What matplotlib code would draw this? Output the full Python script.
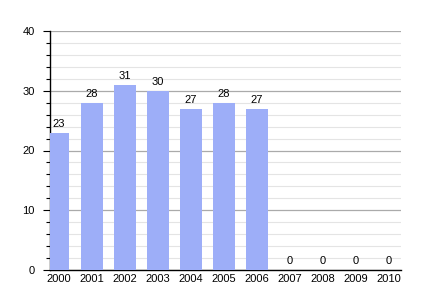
import matplotlib
matplotlib.use("Agg")
import matplotlib.pyplot as plt
from matplotlib.ticker import MultipleLocator

plt.rcParams["font.family"] = ["Liberation Sans", "DejaVu Sans"]

years = ["2000", "2001", "2002", "2003", "2004", "2005", "2006", "2007", "2008", "2009", "2010"]
values = [23, 28, 31, 30, 27, 28, 27, 0, 0, 0, 0]

fig = plt.figure(figsize=(4.3, 3.0), dpi=100)
ax = fig.add_axes([50/430, 30/300, 351/430, 239/300])
x = list(range(len(years)))
bars = ax.bar(x, values, width=0.64, color="#9daef8", zorder=3)
for xi, v in zip(x, values):
    ax.text(xi, v + 0.6, str(v), ha="center", va="bottom", fontsize=8, zorder=4)

ax.set_xlim(-0.27, 10.36)
ax.set_ylim(0, 40)
ax.yaxis.set_major_locator(MultipleLocator(10))
ax.yaxis.set_minor_locator(MultipleLocator(2))
ax.grid(axis="y", which="major", color="#aaaaaa", linewidth=0.9, zorder=1)
ax.grid(axis="y", which="minor", color="#e4e4e4", linewidth=0.8, zorder=1)
ax.set_xticks(x)
ax.set_xticklabels(years, fontsize=8)
ax.tick_params(axis="x", length=0, pad=3)
ax.tick_params(axis="y", which="major", length=5, width=0.8, labelsize=8, pad=6)
ax.tick_params(axis="y", which="minor", length=3, width=0.8)
for s in ["top", "right"]:
    ax.spines[s].set_visible(False)
ax.spines["left"].set_linewidth(1.0)
ax.spines["bottom"].set_linewidth(1.0)
fig.savefig("out.png", dpi=100)
